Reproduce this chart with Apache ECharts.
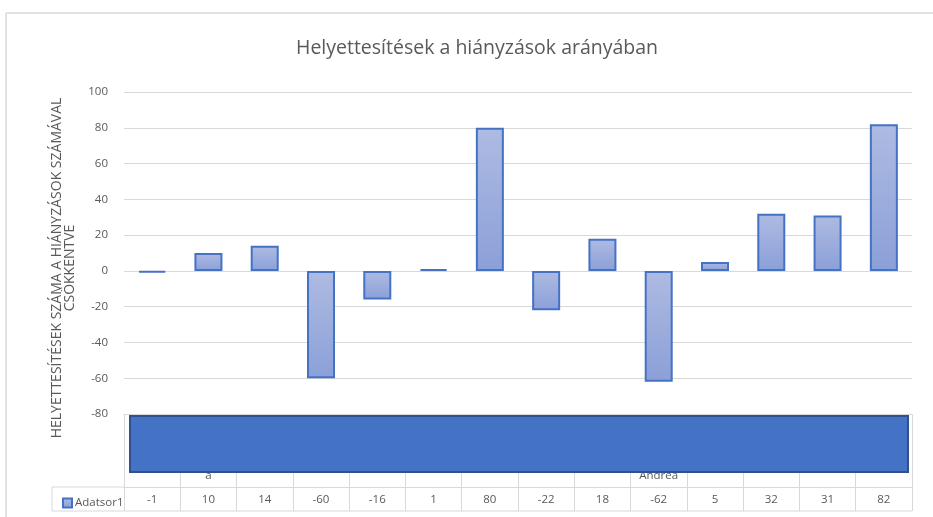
<!DOCTYPE html>
<html>
<head>
<meta charset="utf-8">
<script src="https://cdn.jsdelivr.net/npm/echarts@6/dist/echarts.min.js"></script>
<style>
  html, body { margin: 0; padding: 0; background: #fff; }
  #chart { width: 933px; height: 517px; }
</style>
</head>
<body>
<div id="chart"></div>
<script>
// category names are mostly hidden behind the blue box, only these show
const categories = ['', 'a', '', '', '', '', '', '', '', 'Andrea', '', '', '', '']
const values = [-1, 10, 14, -60, -16, 1, 80, -22, 18, -62, 5, 32, 31, 82]
const seriesName = 'Adatsor1'
const yMin = -80
const yMax = 100
const yStep = 20

const gray = '#595959'
const lineGray = '#d9d9d9'
const font = "'Open Sans', 'Noto Sans', sans-serif"

const chart = echarts.init(document.getElementById('chart'))
chart.setOption({
  animation: false,
  title: {
    text: 'Helyettesítések a hiányzások arányában',
    left: 291,
    top: 33,
    textStyle: {
      color: gray,
      fontSize: 19.5,
      fontWeight: 'normal',
      fontFamily: font
    }
  },
  legend: {
    left: 57,
    top: 492,
    icon: 'rect',
    itemWidth: 9,
    itemHeight: 9,
    itemGap: 3,
    data: [seriesName],
    textStyle: { color: gray, fontSize: 11.5, fontFamily: font, padding: [0, 0, 0, -2] }
  },
  grid: {
    left: 124,
    right: 21,
    top: 92,
    bottom: 103
  },
  xAxis: [{
    type: 'category',
    data: categories,
    position: 'bottom',
    axisLine: { show: true, onZero: false, lineStyle: { color: lineGray } },
    axisTick: { show: true, length: 97, lineStyle: { color: lineGray } },
    axisLabel: {
      show: true,
      margin: 56,
      color: gray,
      fontSize: 11.5,
      fontFamily: font
    },
    z: 1
  }, {
    // data table row
    type: 'category',
    data: values.map(v => String(v)),
    position: 'bottom',
    offset: 73,
    axisLine: { show: true, onZero: false, lineStyle: { color: lineGray } },
    axisTick: { show: false },
    axisLabel: {
      show: true,
      margin: 7,
      color: gray,
      fontSize: 11.5,
      fontFamily: font
    }
  }],
  yAxis: {
    type: 'value',
    min: yMin,
    max: yMax,
    interval: yStep,
    name: 'HELYETTESÍTÉSEK SZÁMA A HIÁNYZÁSOK SZÁMÁVAL\nCSÖKKENTVE',
    nameLocation: 'middle',
    nameRotate: 90,
    nameGap: 38,
    nameTextStyle: {
      color: gray,
      fontSize: 14,
      fontFamily: font,
      lineHeight: 13,
      padding: [0, 30, 0, 0]
    },
    axisLine: { show: false },
    axisTick: { show: false },
    axisLabel: {
      margin: 16,
      color: gray,
      fontSize: 11.5,
      fontFamily: font
    },
    splitLine: { lineStyle: { color: lineGray, width: 1 } }
  },
  series: [{
    name: seriesName,
    type: 'bar',
    data: values,
    barWidth: 28,
    xAxisIndex: 0,
    itemStyle: {
      color: new echarts.graphic.LinearGradient(0, 0, 0, 1, [
        { offset: 0, color: '#aebbe2' },
        { offset: 1, color: '#8ba0d8' }
      ]),
      borderColor: '#4472c4',
      borderWidth: 2
    },
    z: 3
  }],
  graphic: [
    // outer chart border
    { type: 'line', shape: { x1: 6, y1: 13, x2: 933, y2: 13 }, style: { stroke: lineGray, lineWidth: 1.5 } },
    { type: 'line', shape: { x1: 6, y1: 13, x2: 6, y2: 517 }, style: { stroke: lineGray, lineWidth: 1.5 } },
    // legend cell of the data table
    { type: 'line', shape: { x1: 52, y1: 487, x2: 124, y2: 487 }, style: { stroke: lineGray, lineWidth: 1 } },
    { type: 'line', shape: { x1: 52, y1: 487, x2: 52, y2: 511 }, style: { stroke: lineGray, lineWidth: 1 } },
    { type: 'line', shape: { x1: 52, y1: 511, x2: 912, y2: 511 }, style: { stroke: lineGray, lineWidth: 1 } },
    // blue box covering the category labels
    {
      type: 'rect',
      z: 100,
      shape: { x: 130, y: 416, width: 778, height: 56 },
      style: { fill: '#4472c4', stroke: '#2f528f', lineWidth: 2 }
    }
  ]
})
</script>
</body>
</html>
